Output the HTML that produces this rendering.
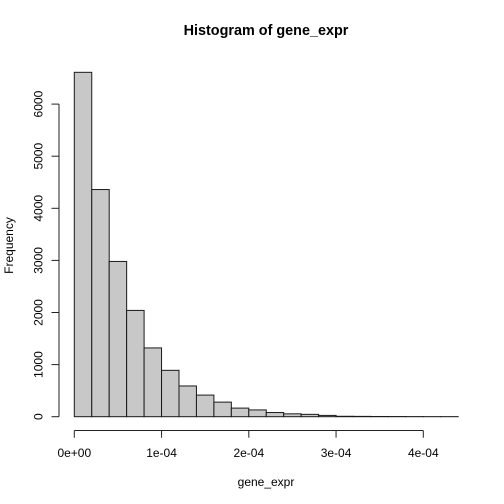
<!DOCTYPE html>
<html>
<head>
<meta charset="utf-8">
<style>
html,body{margin:0;padding:0;background:#fff;width:504px;height:504px;overflow:hidden}
svg{display:block}
text{font-family:"Liberation Sans",Arial,sans-serif;fill:#000}
</style>
</head>
<body>
<svg id="chart" width="504" height="504" viewBox="0 0 504 504" xmlns="http://www.w3.org/2000/svg">
<rect x="0" y="0" width="504" height="504" fill="#fff"/>
<text x="266" y="35" font-size="14.4" font-weight="bold" text-anchor="middle">Histogram of gene_expr</text>
<text x="266" y="486" font-size="12" text-anchor="middle">gene_expr</text>
<text transform="translate(13,245.5) rotate(-90)" font-size="12" text-anchor="middle">Frequency</text>
<g id="bars"></g>
<g id="xaxis"></g>
<g id="yaxis"></g>
</svg>
<script>
const binWidth = 2e-5;
const binStart = 0;
const frequencies = [6610, 4360, 2980, 2040, 1320, 890, 590, 415, 280, 165, 130, 80, 55, 45, 25, 8, 6, 4, 3, 2, 1, 1];
const xTicks = [0, 1e-4, 2e-4, 3e-4, 4e-4];
const xTickLabels = ["0e+00", "1e-04", "2e-04", "3e-04", "4e-04"];
const yTicks = [0, 1000, 2000, 3000, 4000, 5000, 6000];
const yTickLabels = ["0", "1000", "2000", "3000", "4000", "5000", "6000"];

const NS = "http://www.w3.org/2000/svg";
function xScale(v) { return 74.3 + v * 872500; }
function yScale(v) { return 416.7 - v * 0.0521; }
function make(tag, attrs, parent) {
  const el = document.createElementNS(NS, tag);
  for (const k in attrs) el.setAttribute(k, attrs[k]);
  parent.appendChild(el);
  return el;
}
const barsG = document.getElementById("bars");
frequencies.forEach(function (f, i) {
  const x0 = xScale(binStart + i * binWidth);
  const x1 = xScale(binStart + (i + 1) * binWidth);
  const y = yScale(f);
  const r = make("rect", { x: x0, y: y, width: x1 - x0, height: yScale(0) - y, fill: "#c8c8c8", stroke: "#1a1a1a", "stroke-width": 1 }, barsG);
  
  
});
const xG = document.getElementById("xaxis");
const xLine = make("line", { x1: xScale(xTicks[0]), x2: xScale(xTicks[xTicks.length - 1]), y1: 430.5, y2: 430.5, stroke: "#222", "stroke-width": 1 }, xG);


xTicks.forEach(function (t, i) {
  const px = xScale(t);
  const tick = make("line", { x1: px, x2: px, y1: 430.5, y2: 437.7, stroke: "#222", "stroke-width": 1 }, xG);
  
  
  const lab = make("text", { x: px, y: 457, "font-size": 12, "text-anchor": "middle" }, xG);
  
  
  lab.textContent = xTickLabels[i];
});
const yG = document.getElementById("yaxis");
const yLine = make("line", { x1: 59, x2: 59, y1: yScale(yTicks[0]), y2: yScale(yTicks[yTicks.length - 1]), stroke: "#222", "stroke-width": 1 }, yG);


yTicks.forEach(function (t, i) {
  const py = yScale(t);
  const tick = make("line", { x1: 51.5, x2: 59, y1: py, y2: py, stroke: "#222", "stroke-width": 1 }, yG);
  
  
  const lab = make("text", { transform: "translate(42.3," + py + ") rotate(-90)", "font-size": 12, "text-anchor": "middle" }, yG);
  
  
  lab.textContent = yTickLabels[i];
});
</script>
</body>
</html>
